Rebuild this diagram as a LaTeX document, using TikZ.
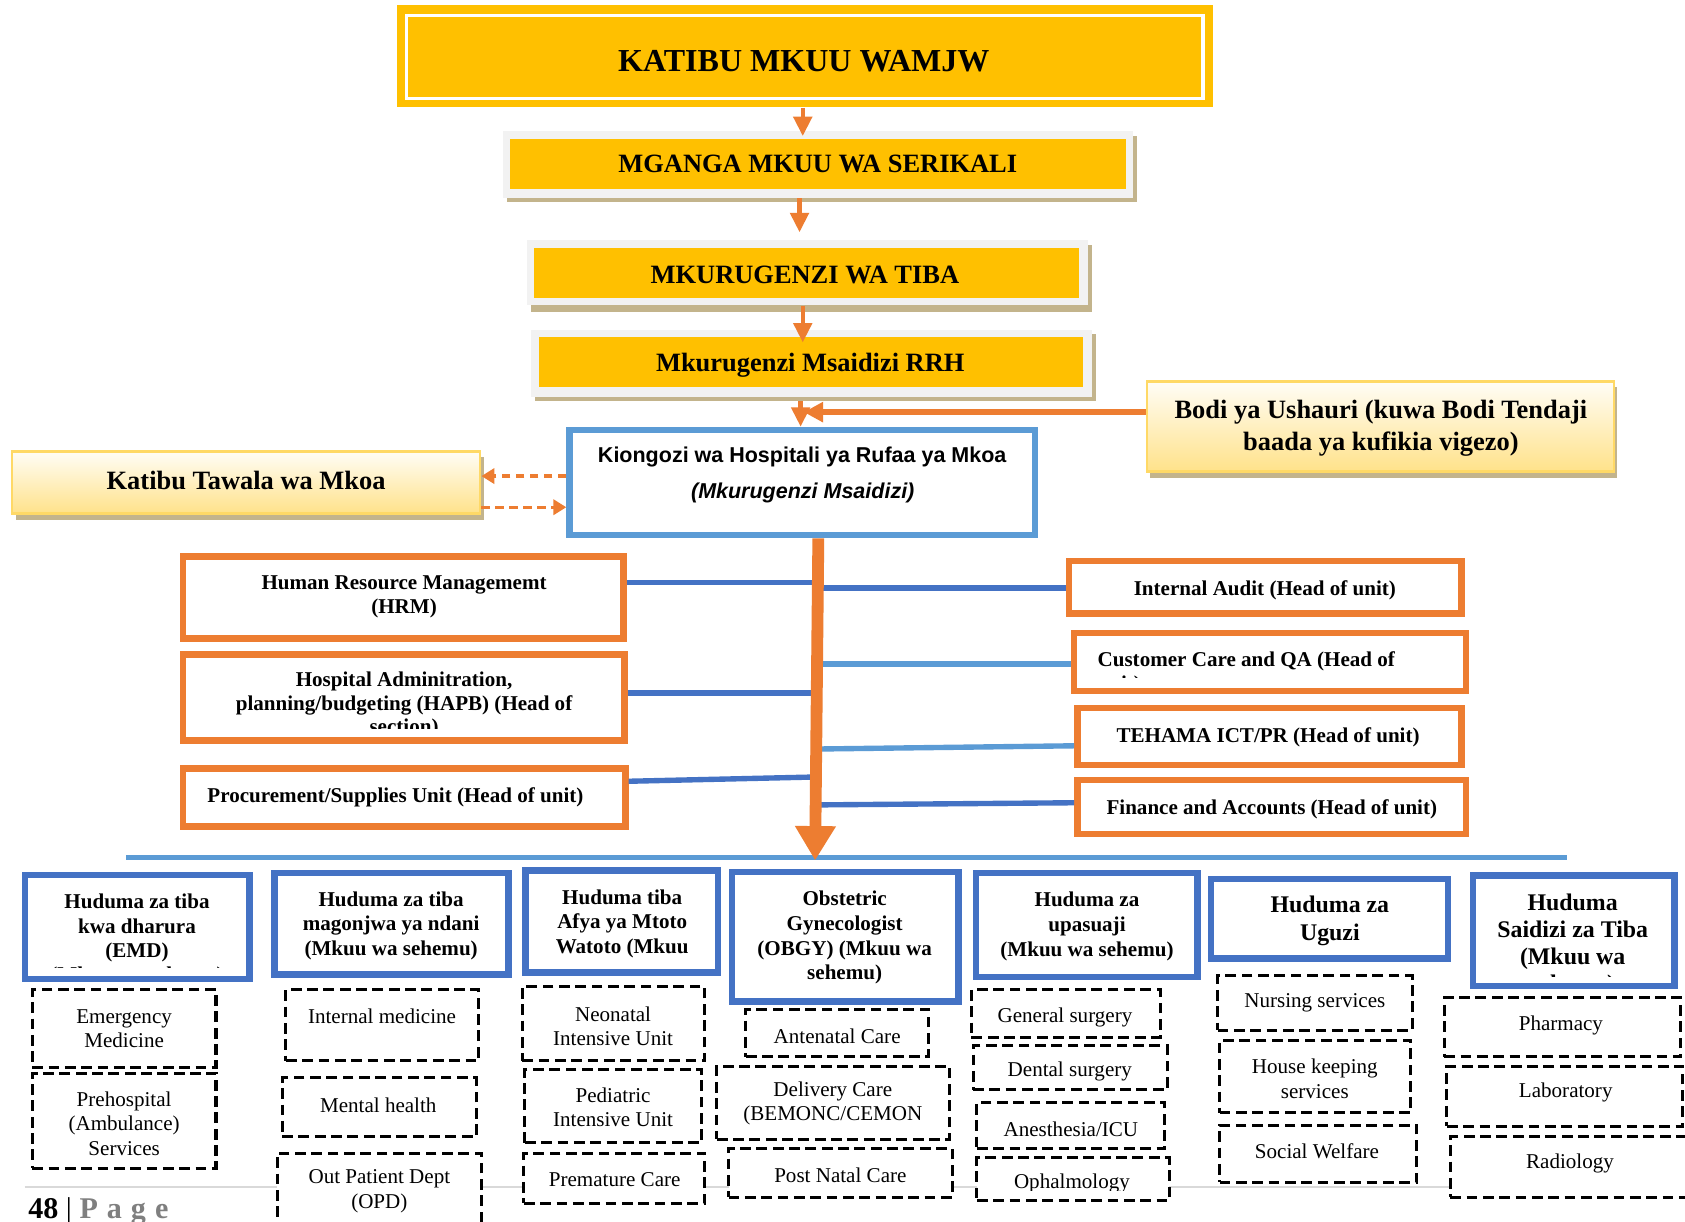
\documentclass[tikz,border=0pt]{standalone}
\usepackage{fontspec}
\setmainfont{Liberation Serif}
\newfontfamily\sansf{Liberation Sans}
\usetikzlibrary{arrows.meta,calc}
\definecolor{gold}{HTML}{FFC000}
\definecolor{paleg}{HTML}{F2F2F2}
\definecolor{shad}{HTML}{C3B48C}
\definecolor{orng}{HTML}{ED7D31}
\definecolor{dblue}{HTML}{4472C4}
\definecolor{lblue}{HTML}{5B9BD5}
\definecolor{ybord}{HTML}{FFD966}
\definecolor{ytop}{HTML}{FFFDF6}
\definecolor{ybot}{HTML}{FFE28A}
\definecolor{pgrey}{HTML}{7F7F7F}
\definecolor{lgrey}{HTML}{D9D9D9}
\newcommand{\mkbox}[7]{\node[#1, minimum width={(#5-#3)*0.5pt}, minimum height={(#6-#4)*0.5pt}] (#2) at ({(#3+#5)/2},{(#4+#6)/2}) {#7};}
\tikzset{
  base/.style={rectangle, inner sep=0pt},
  goldfill/.style={base, fill=gold},
  greybox/.style={base, fill=paleg},
  shadowbox/.style={base, fill=shad},
  whiteline/.style={base, draw=white, line width=1.5pt},
  orbox/.style={base, draw=orng, line width=3pt, fill=white},
  bubox/.style={base, draw=dblue, line width=3pt, fill=white},
  kibox/.style={base, draw=lblue, line width=3pt, fill=white},
  dbox/.style={base, draw=black, line width=1.4pt, dash pattern=on 5pt off 2.6pt, fill=white},
  gradbox/.style={base, top color=ytop, bottom color=ybot, draw=ybord, line width=1.2pt},
  busline/.style={base, fill=lblue},
  oarr/.style={draw=orng, line width=2pt, -{Triangle[length=9pt,width=8.5pt]}},
  barr/.style={draw=orng, line width=3pt, -{Triangle[length=9pt,width=9pt]}},
  darr/.style={draw=orng, line width=1.5pt, dash pattern=on 4pt off 2.5pt, -{Triangle[length=6pt,width=7pt]}},
  spinearr/.style={draw=orng, line width=5.5pt, -{Triangle[length=16pt,width=18pt]}},
  conD/.style={draw=dblue, line width=2.5pt},
  conL/.style={draw=lblue, line width=2.5pt},
  txt/.style={inner sep=0pt, align=center, yshift=-1pt},
  tA/.style={txt, font=\fontsize{14.9}{17}\selectfont\bfseries},
  tB/.style={txt, font=\fontsize{12.3}{14.5}\selectfont\bfseries},
  tK/.style={txt, font=\sansf\fontsize{10}{12}\selectfont\bfseries},
  tO/.style={txt, font=\fontsize{9.8}{11.4}\selectfont\bfseries},
  tH/.style={txt, font=\fontsize{9.8}{11.5}\selectfont\bfseries},
  tHB/.style={txt, font=\fontsize{11.1}{12.8}\selectfont\bfseries},
  tD/.style={txt, font=\fontsize{9.8}{11.3}\selectfont},
}
\begin{document}
\begin{tikzpicture}[x=0.5pt,y=-0.5pt]
\clip (0,0) rectangle (1568,1137);
\fill[white] (0,0) rectangle (1568,1137);

% footer rule
\coordinate (fl1) at (23,1104.5);
\coordinate (fl2) at (1349,1104.5);
\draw[lgrey, line width=0.75pt] (fl1) -- (fl2);

% ---- top chain ----
\mkbox{goldfill}{b0}{369}{5}{1129}{100}{}
\mkbox{whiteline}{b0in}{378.5}{14.5}{1119.5}{91.5}{}
\node[tA] (t0) at (748,55) {KATIBU MKUU WAMJW};

\mkbox{shadowbox}{b1s}{472}{127}{1058}{188}{}
\mkbox{greybox}{b1}{468}{122}{1054}{184}{}
\mkbox{goldfill}{b1y}{475}{129}{1048}{176}{}
\node[tB] (t1) at (761,151) {MGANGA MKUU WA SERIKALI};

\mkbox{shadowbox}{b2s}{494}{228}{1016}{290}{}
\mkbox{greybox}{b2}{490}{223}{1012}{284}{}
\mkbox{goldfill}{b2y}{497}{231}{1004}{277}{}
\node[tB] (t2) at (749,254) {MKURUGENZI WA TIBA};

\mkbox{shadowbox}{b3s}{498}{311}{1020}{373}{}
\mkbox{greybox}{b3}{494}{307}{1016}{369}{}
\mkbox{goldfill}{b3y}{502}{314}{1008}{360}{}
\node[tB] (t3) at (754,338) {Mkurugenzi Msaidizi RRH};

% side boxes
\mkbox{shadowbox}{kts}{15}{425}{450}{484}{}
\mkbox{gradbox}{kt}{11.2}{420.2}{446.8}{477.8}{}
\node[tB] (tkt) at (229,445) {Katibu Tawala wa Mkoa};

\mkbox{shadowbox}{bods}{1070}{360}{1505}{445}{}
\mkbox{gradbox}{bod}{1067.2}{355.2}{1501.8}{438.8}{}
\node[tB] (tbod) at (1285,396.5) {Bodi ya Ushauri (kuwa Bodi Tendaji\\baada ya kufikia vigezo)};

% Kiongozi
\mkbox{kibox}{kio}{530}{400}{963}{498}{}
\node[tK] (tk1) at (746.5,423) {Kiongozi wa Hospitali ya Rufaa ya Mkoa};
\node[tK] (tk2) at (747,457) {\itshape (Mkurugenzi Msaidizi)};

% arrows top
\coordinate (xa) at (747,0);
\coordinate (xb) at (744,0);
\coordinate (xc) at (745,0);
\draw[oarr, shorten >=-2.5pt] (b0.south -| xa) -- (b1.north -| xa);
\draw[oarr, shorten >=3.25pt] (b1.south -| xb) -- (b2.north -| xb);
\draw[oarr, shorten >=-6pt] (b2.south -| xa) -- (b3.north -| xa);
\draw[oarr] (b3s.south -| xc) -- (kio.north -| xc);
\coordinate (btip) at (748,383.5);
\draw[barr] ($(bod.west)+(0,-13.5)$) -- (btip);

% dashed arrows
\draw[darr] ($(kio.west)+(0,-6)$) -- ($(kt.east)+(0,-6)$);
\draw[darr] ($(kt.east)+(0,23)$) -- ($(kio.west)+(0,23)$);

% ---- connectors ----
\coordinate (s1) at (760,542);
\coordinate (s2) at (760,547);
\coordinate (s3) at (760,645);
\coordinate (s4) at (760,618);
\coordinate (s5) at (760,697);
\coordinate (s6) at (760,723);
\coordinate (s7) at (760,749);

\mkbox{orbox}{hrm}{170.5}{518}{580}{594}{}
\mkbox{orbox}{hapb}{170.5}{609}{581}{689}{}
\mkbox{orbox}{proc}{170.5}{715}{582}{769}{}
\mkbox{orbox}{ia}{995}{522}{1360}{571}{}
\mkbox{orbox}{cc}{999.5}{589}{1364}{643}{}
\mkbox{orbox}{teh}{1002.5}{659}{1360}{712}{}
\mkbox{orbox}{fin}{1002.5}{726}{1364}{776}{}

\draw[conD] ($(hrm.east)+(0,-14)$) -- (s1);
\draw[conD] (s2) -- (ia.west |- s2);
\draw[conD] ($(hapb.east)+(0,-4)$) -- (s3);
\draw[conL] (s4) -- (cc.west |- s4);
\draw[conL] (s5) -- ($(teh.west)+(0,8.5)$);
\draw[conD] ($(proc.east)+(0,-15)$) -- (s6);
\draw[conD] (s7) -- ($(fin.west)+(0,-4)$);

\node[tO] (thrm) at (376,553.5) {Human Resource Managememt\\(HRM)};
\begin{scope}
\clip (173,612) rectangle (578,678);
\node[tO, font=\fontsize{9.8}{11}\selectfont\bfseries] (thapb) at (376,654) {Hospital Adminitration,\\planning/budgeting (HAPB) (Head of\\section)};
\end{scope}
\node[tO] (tproc) at (368,740) {Procurement/Supplies Unit (Head of unit)};
\node[tO] (tia) at (1177,547) {Internal Audit (Head of unit)};
\begin{scope}
\clip (1002,592) rectangle (1361,630);
\node[tO, align=left, anchor=west, font=\fontsize{9.8}{11.5}\selectfont\bfseries] (tcc) at (1021,624.5) {Customer Care and QA (Head of\\unit)};
\end{scope}
\node[tO] (tteh) at (1180,684) {TEHAMA ICT/PR (Head of unit)};
\node[tO] (tfin) at (1183.5,751) {Finance and Accounts (Head of unit)};

% bus line and spine
\mkbox{busline}{bus}{117}{795.7}{1458}{800.3}{}
\coordinate (spx1) at (761.5,0);
\coordinate (spx2) at (758.5,0);
\draw[spinearr] (kio.south -| spx1) -- (bus.south -| spx2);

% ---- bottom headers ----
\mkbox{bubox}{h1}{23.5}{814}{232}{911}{}
\mkbox{bubox}{h2}{255.5}{812.5}{473}{907}{}
\mkbox{bubox}{h3}{489}{810}{668}{905}{}
\mkbox{bubox}{h4}{681}{811.5}{892}{932}{}
\mkbox{bubox}{h5}{908}{812.5}{1114.5}{909}{}
\mkbox{bubox}{h6}{1127}{818}{1347.5}{892}{}
\mkbox{bubox}{h7}{1370.5}{814.5}{1558}{917.5}{}

\begin{scope}
\clip (26,817) rectangle (229,900);
\node[tH, font=\fontsize{9.8}{11.25}\selectfont\bfseries] (th1) at (127.5,872.75) {Huduma za tiba\\kwa dharura\\(EMD)\\(Mkuu wa sehemu)};
\end{scope}
\node[tH] (th2) at (364,859.5) {Huduma za tiba\\magonjwa ya ndani\\(Mkuu wa sehemu)};
\node[tH] (th3) at (579,857.5) {Huduma tiba\\Afya ya Mtoto\\Watoto (Mkuu};
\node[tH] (th4) at (786,870.5) {Obstetric\\Gynecologist\\(OBGY) (Mkuu wa\\sehemu)};
\node[tH] (th5) at (1011.5,860) {Huduma za\\upasuaji\\(Mkuu wa sehemu)};
\node[tHB] (th6) at (1237.5,855) {Huduma za\\Uguzi};
\begin{scope}
\clip (1373,817) rectangle (1555,908.5);
\node[tHB, font=\fontsize{11.1}{12.5}\selectfont\bfseries] (th7) at (1463.5,877.5) {Huduma\\Saidizi za Tiba\\(Mkuu wa\\sehemu)};
\end{scope}

% ---- dashed sub boxes ----
\mkbox{dbox}{d11}{30}{921}{201}{993}{}
\mkbox{dbox}{d12}{30}{998.5}{201}{1087}{}
\mkbox{dbox}{d21}{266}{921}{445.5}{987}{}
\mkbox{dbox}{d22}{262.5}{1003}{443}{1058}{}
\mkbox{dbox}{d23}{258}{1073}{448}{1145}{}
\mkbox{dbox}{d31}{486}{918}{656}{987}{}
\mkbox{dbox}{d32}{488.5}{995}{653}{1063.5}{}
\mkbox{dbox}{d33}{487.5}{1073}{656}{1119.5}{}
\mkbox{dbox}{d41}{694}{939}{864}{983.5}{}
\mkbox{dbox}{d42}{667}{992}{884}{1060}{}
\mkbox{dbox}{d43}{678}{1068.5}{886}{1114}{}
\mkbox{dbox}{d51}{904}{921}{1079.5}{965}{}
\mkbox{dbox}{d52}{905.5}{973}{1086}{1014}{}
\mkbox{dbox}{d53}{909}{1025.5}{1084}{1069}{}
\mkbox{dbox}{d54}{909}{1077.5}{1088}{1117.5}{}
\mkbox{dbox}{d61}{1133}{908}{1314}{958.5}{}
\mkbox{dbox}{d62}{1135}{968}{1313}{1035.5}{}
\mkbox{dbox}{d63}{1135}{1047}{1318.5}{1100}{}
\mkbox{dbox}{d71}{1344}{928.5}{1564}{983.5}{}
\mkbox{dbox}{d72}{1346.5}{992}{1566}{1048}{}
\mkbox{dbox}{d73}{1349.5}{1058}{1576}{1114}{}

\node[tD] (e11) at (115.5,955.5) {Emergency\\Medicine};
\node[tD] (e12) at (115.5,1043.5) {Prehospital\\(Ambulance)\\Services};
\node[tD] (e21) at (355.5,943.5) {Internal medicine};
\node[tD] (e22) at (352,1026.5) {Mental health};
\node[tD] (e23) at (353,1106.5) {Out Patient Dept\\(OPD)};
\node[tD] (e31) at (570.5,953) {Neonatal\\Intensive Unit};
\node[tD] (e32) at (570.5,1028.5) {Pediatric\\Intensive Unit};
\node[tD] (e33) at (572,1096) {Premature Care};
\node[tD] (e41) at (779,962.5) {Antenatal Care};
\node[tD] (e42) at (775,1025) {Delivery Care\\(BEMONC/CEMON};
\node[tD] (e43) at (782,1092) {Post Natal Care};
\node[tD] (e51) at (991,944.5) {General surgery};
\node[tD] (e52) at (995.5,995.5) {Dental surgery};
\node[tD] (e53) at (996.5,1048.5) {Anesthesia/ICU};
\begin{scope}
\clip (911,1079) rectangle (1086,1108);
\node[tD] (e54) at (997.5,1099) {Ophalmology};
\end{scope}
\node[tD] (e61) at (1223.5,931.5) {Nursing services};
\node[tD] (e62) at (1223.5,1002) {House keeping\\services};
\node[tD] (e63) at (1225.5,1069) {Social Welfare};
\node[tD] (e71) at (1452.5,952) {Pharmacy};
\node[tD] (e72) at (1457,1014.5) {Laboratory};
\node[tD] (e73) at (1461,1081) {Radiology};

% footer
\node[anchor=base west, inner sep=0pt, font=\fontsize{14}{16}\selectfont] (pg) at (26,1134) {\textbf{48} | \textcolor{pgrey}{\textbf{P\hspace{4.2pt}a\hspace{4.2pt}g\hspace{4.2pt}e}}};
\end{tikzpicture}
\end{document}
